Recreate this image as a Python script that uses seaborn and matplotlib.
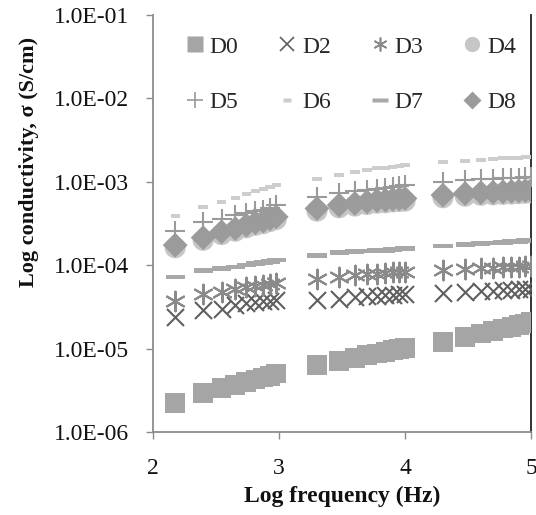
import numpy as np
import pandas as pd
import matplotlib
matplotlib.use("Agg")
import matplotlib.pyplot as plt
from matplotlib.lines import Line2D
from matplotlib.ticker import FixedLocator, FuncFormatter, NullLocator
import seaborn as sns

# Measurement frequencies (Hz), three sweeps
freq_hz = [150, 250, 350, 450, 550, 650, 750, 850, 950,
           2000, 3000, 4000, 5000, 6000, 7000, 8000, 9000, 10000,
           20000, 30000, 40000, 50000, 60000, 70000, 80000, 90000, 100000]

# Conductivity (S/cm) for each sample
D0 = [2.21e-6, 2.91e-6, 3.34e-6, 3.63e-6, 3.98e-6, 4.27e-6, 4.52e-6, 4.73e-6, 5.01e-6,
      6.35e-6, 7.08e-6, 7.76e-6, 8.32e-6, 8.71e-6, 9.12e-6, 9.55e-6, 9.89e-6, 1.02e-5,
      1.20e-5, 1.38e-5, 1.51e-5, 1.62e-5, 1.74e-5, 1.82e-5, 1.91e-5, 2.00e-5, 2.09e-5]
D2 = [2.40e-5, 2.88e-5, 3.02e-5, 3.31e-5, 3.49e-5, 3.59e-5, 3.68e-5, 3.74e-5, 3.80e-5,
      3.80e-5, 3.98e-5, 4.12e-5, 4.22e-5, 4.27e-5, 4.37e-5, 4.42e-5, 4.47e-5, 4.52e-5,
      4.60e-5, 4.79e-5, 4.90e-5, 4.95e-5, 5.01e-5, 5.07e-5, 5.13e-5, 5.19e-5, 5.25e-5]
D3 = [3.72e-5, 4.57e-5, 4.79e-5, 5.19e-5, 5.43e-5, 5.62e-5, 5.75e-5, 5.96e-5, 6.07e-5,
      6.92e-5, 7.24e-5, 7.59e-5, 7.85e-5, 7.94e-5, 8.13e-5, 8.22e-5, 8.32e-5, 8.40e-5,
      8.71e-5, 9.12e-5, 9.23e-5, 9.33e-5, 9.44e-5, 9.55e-5, 9.60e-5, 9.66e-5, 9.77e-5]
D4 = [1.62e-4, 1.99e-4, 2.33e-4, 2.56e-4, 2.81e-4, 3.01e-4, 3.15e-4, 3.34e-4, 3.53e-4,
      4.45e-4, 4.88e-4, 5.12e-4, 5.35e-4, 5.54e-4, 5.61e-4, 5.74e-4, 5.80e-4, 5.87e-4,
      6.44e-4, 6.73e-4, 6.89e-4, 6.98e-4, 7.06e-4, 7.13e-4, 7.22e-4, 7.30e-4, 7.38e-4]
D5 = [2.57e-4, 3.31e-4, 3.63e-4, 3.98e-4, 4.17e-4, 4.42e-4, 4.62e-4, 4.90e-4, 5.25e-4,
      6.61e-4, 7.41e-4, 7.67e-4, 7.94e-4, 8.22e-4, 8.41e-4, 8.61e-4, 8.81e-4, 9.12e-4,
      9.86e-4, 1.05e-3, 1.07e-3, 1.08e-3, 1.10e-3, 1.11e-3, 1.12e-3, 1.14e-3, 1.15e-3]
D6 = [3.89e-4, 5.01e-4, 5.75e-4, 6.46e-4, 7.14e-4, 7.76e-4, 8.20e-4, 8.71e-4, 9.12e-4,
      1.07e-3, 1.20e-3, 1.30e-3, 1.38e-3, 1.45e-3, 1.48e-3, 1.51e-3, 1.55e-3, 1.60e-3,
      1.74e-3, 1.78e-3, 1.84e-3, 1.87e-3, 1.91e-3, 1.93e-3, 1.95e-3, 1.97e-3, 2.00e-3]
D7 = [7.24e-5, 8.59e-5, 9.12e-5, 9.55e-5, 1.00e-4, 1.05e-4, 1.08e-4, 1.11e-4, 1.15e-4,
      1.30e-4, 1.41e-4, 1.45e-4, 1.48e-4, 1.50e-4, 1.51e-4, 1.55e-4, 1.57e-4, 1.58e-4,
      1.70e-4, 1.78e-4, 1.82e-4, 1.84e-4, 1.86e-4, 1.91e-4, 1.93e-4, 1.97e-4, 2.00e-4]
D8 = [1.74e-4, 2.14e-4, 2.51e-4, 2.75e-4, 3.02e-4, 3.24e-4, 3.39e-4, 3.59e-4, 3.80e-4,
      4.79e-4, 5.25e-4, 5.50e-4, 5.75e-4, 5.96e-4, 6.03e-4, 6.17e-4, 6.24e-4, 6.31e-4,
      6.92e-4, 7.24e-4, 7.41e-4, 7.50e-4, 7.59e-4, 7.67e-4, 7.76e-4, 7.85e-4, 7.94e-4]

series_names = ["D0", "D2", "D3", "D4", "D5", "D6", "D7", "D8"]
series_values = [D0, D2, D3, D4, D5, D6, D7, D8]
x_ticks = [2, 3, 4, 5]
y_ticks = [1e-6, 1e-5, 1e-4, 1e-3, 1e-2, 1e-1]

sns.set_theme(style="white")
plt.rcParams["font.family"] = ["Liberation Serif", "DejaVu Serif"]

# flat bar markers for D6 / D7
short_bar = [(-1, -0.42), (1, -0.42), (1, 0.42), (-1, 0.42), (-1, -0.42)]
long_bar = [(-1, -0.24), (1, -0.24), (1, 0.24), (-1, 0.24), (-1, -0.24)]
asterisk = (6, 2, 0)

# name: (marker, plot size s, colour, linewidth, legend markersize)
styles = {
    "D0": ("s", 200, "#a5a5a5", 0, 11),
    "D2": ("x", 150, "#5f5f5f", 1.5, 10),
    "D3": (asterisk, 200, "#8a8a8a", 1.5, 10),
    "D4": ("o", 230, "#c6c6c6", 0, 11),
    "D5": ("+", 220, "#9a9a9a", 1.5, 12),
    "D6": (short_bar, 45, "#cdcdcd", 0, 6),
    "D7": (long_bar, 190, "#a8a8a8", 0, 12),
    "D8": ("D", 160, "#9b9b9b", 0, 9),
}

log_f = np.log10(freq_hz)
frames = [pd.DataFrame({"logf": log_f, "sigma": vals, "sample": name})
          for name, vals in zip(series_names, series_values)]
df = pd.concat(frames, ignore_index=True)

fig = plt.figure(figsize=(5.36, 5.15), dpi=100)
ax = fig.add_axes([153 / 536, 1 - 432 / 515, (531 - 153) / 536, (432 - 15) / 515])

draw_order = ["D0", "D2", "D3", "D7", "D4", "D8", "D5", "D6"]
for name in draw_order:
    marker, s, color, lw, _ = styles[name]
    sub = df[df["sample"] == name]
    if lw > 0:
        sns.scatterplot(data=sub, x="logf", y="sigma", ax=ax, marker=marker, s=s,
                        color=color, linewidth=lw, legend=False, zorder=3)
    else:
        sns.scatterplot(data=sub, x="logf", y="sigma", ax=ax, marker=marker, s=s,
                        color=color, edgecolor="none", linewidth=0, legend=False, zorder=3)

ax.set_yscale("log")
ax.set_xlim(2, 5)
ax.set_ylim(1e-6, 1e-1)
ax.xaxis.set_major_locator(FixedLocator(x_ticks))
ax.yaxis.set_major_locator(FixedLocator(y_ticks))
ax.yaxis.set_minor_locator(NullLocator())
ax.yaxis.set_major_formatter(FuncFormatter(lambda v, p: "1.0E-%02d" % round(-np.log10(v))))
ax.xaxis.set_major_formatter(FuncFormatter(lambda v, p: "%d" % v))

for side in ["left", "bottom"]:
    ax.spines[side].set_color("#8c8c8c")
    ax.spines[side].set_linewidth(1.3)
ax.spines["right"].set_color("#222222")
ax.spines["right"].set_linewidth(1.3)
ax.spines["top"].set_visible(False)

ax.tick_params(axis="both", which="major", direction="out", length=5, width=1.0,
               color="#8c8c8c", labelsize=17, labelcolor="#111111")
ax.tick_params(axis="y", pad=12, left=True)
ax.tick_params(axis="x", pad=14, bottom=True)

ax.set_xlabel("Log frequency (Hz)", fontsize=17, fontweight="bold", color="#111111")
ax.xaxis.set_label_coords(0.5, -0.128)
ax.set_ylabel("Log conductivity, σ (S/cm)", fontsize=16, fontweight="bold", color="#111111")
ax.yaxis.set_label_coords(-0.302, 0.647)

handles = {}
for name in series_names:
    marker, s, color, lw, ms = styles[name]
    if lw > 0:
        h = Line2D([], [], linestyle="none", marker=marker, markersize=ms,
                   color=color, markeredgewidth=1.2)
    else:
        h = Line2D([], [], linestyle="none", marker=marker, markersize=ms,
                   markerfacecolor=color, markeredgecolor="none")
    handles[name] = h

# legend fills column by column, so interleave the two rows
legend_order = ["D0", "D5", "D2", "D6", "D3", "D7", "D4", "D8"]
fig.legend([handles[n] for n in legend_order], legend_order, ncol=4, frameon=False,
           fontsize=17, loc="upper left", bbox_to_anchor=(186 / 536, 1 - 36 / 515),
           bbox_transform=fig.transFigure, borderpad=0, borderaxespad=0,
           handlelength=0.75, handletextpad=0.25, columnspacing=1.7,
           labelspacing=1.45)

fig.savefig("out.png", dpi=100)
